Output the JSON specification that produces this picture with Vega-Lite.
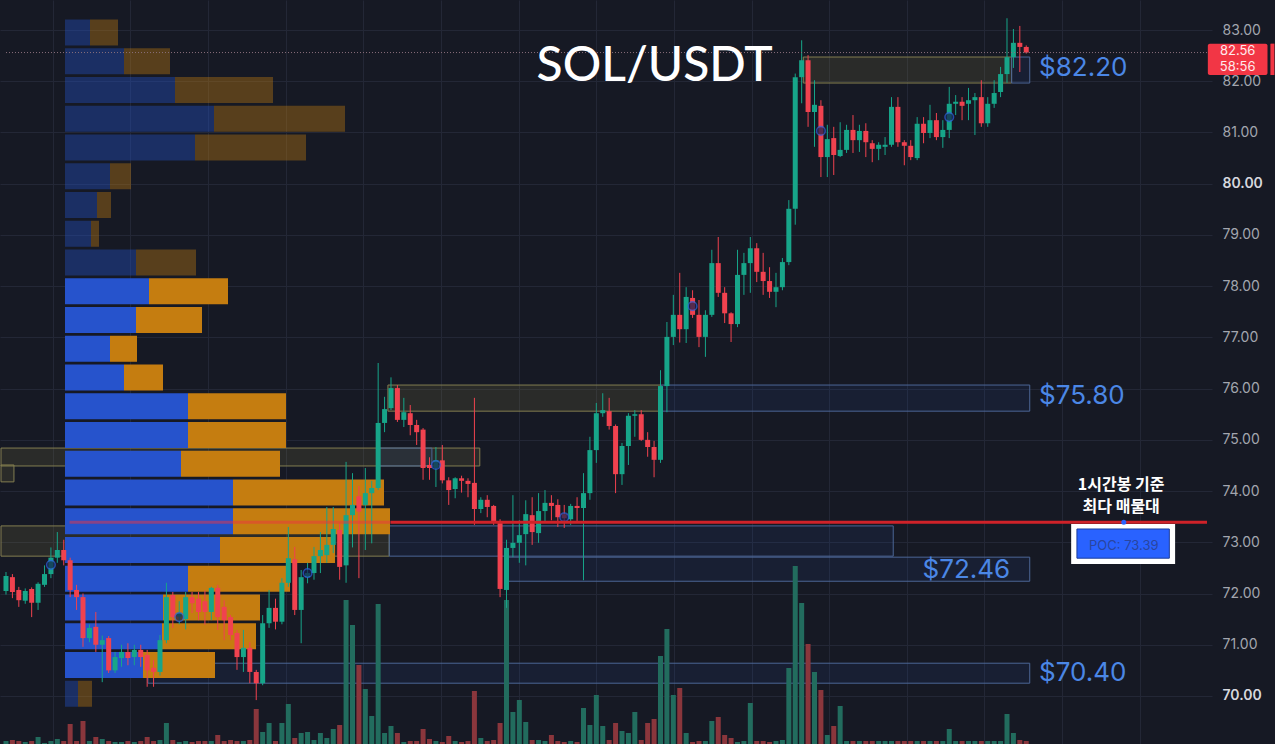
{
  "$schema": "https://vega.github.io/schema/vega-lite/v6.json",
  "width": 1212,
  "height": 744,
  "autosize": {"type": "pad"},
  "padding": 0,
  "background": "#161924",
  "config": {"view": {"stroke": null}, "font": "Inter"},
  "datasets": {
    "candles": [
      {"i":0,"o":72.05,"h":72.42,"l":71.98,"c":72.34,"v":3},
      {"i":1,"o":72.32,"h":72.38,"l":71.91,"c":72.03,"v":4},
      {"i":2,"o":72.07,"h":72.13,"l":71.74,"c":71.87,"v":3},
      {"i":3,"o":71.86,"h":72.10,"l":71.80,"c":72.05,"v":2},
      {"i":4,"o":72.09,"h":72.12,"l":71.54,"c":71.82,"v":3},
      {"i":5,"o":71.82,"h":72.22,"l":71.68,"c":72.19,"v":7},
      {"i":6,"o":72.17,"h":72.55,"l":72.13,"c":72.38,"v":1},
      {"i":7,"o":72.38,"h":72.90,"l":72.30,"c":72.70,"v":3},
      {"i":8,"o":72.70,"h":73.20,"l":72.60,"c":72.85,"v":5},
      {"i":9,"o":72.85,"h":73.05,"l":72.55,"c":72.65,"v":3},
      {"i":10,"o":72.65,"h":72.70,"l":71.93,"c":72.07,"v":20},
      {"i":11,"o":72.07,"h":72.17,"l":71.68,"c":71.93,"v":3},
      {"i":12,"o":71.93,"h":72.00,"l":70.96,"c":71.13,"v":23},
      {"i":13,"o":71.13,"h":71.40,"l":71.05,"c":71.33,"v":3},
      {"i":14,"o":71.35,"h":71.64,"l":70.86,"c":71.00,"v":7},
      {"i":15,"o":71.00,"h":71.18,"l":70.27,"c":71.09,"v":5},
      {"i":16,"o":71.13,"h":71.17,"l":70.45,"c":70.50,"v":3},
      {"i":17,"o":70.50,"h":70.86,"l":70.45,"c":70.76,"v":2},
      {"i":18,"o":70.74,"h":71.00,"l":70.57,"c":70.86,"v":2},
      {"i":19,"o":70.86,"h":71.03,"l":70.60,"c":70.74,"v":3},
      {"i":20,"o":70.76,"h":71.00,"l":70.60,"c":70.90,"v":2},
      {"i":21,"o":70.90,"h":71.00,"l":70.57,"c":70.76,"v":3},
      {"i":22,"o":70.80,"h":70.90,"l":70.18,"c":70.50,"v":7},
      {"i":23,"o":70.55,"h":70.70,"l":70.18,"c":70.47,"v":3},
      {"i":24,"o":70.47,"h":71.19,"l":70.40,"c":71.09,"v":4},
      {"i":25,"o":71.09,"h":72.21,"l":71.03,"c":71.93,"v":21},
      {"i":26,"o":71.97,"h":72.03,"l":71.33,"c":71.54,"v":4},
      {"i":27,"o":71.55,"h":71.85,"l":71.40,"c":71.62,"v":2},
      {"i":28,"o":71.50,"h":72.03,"l":71.30,"c":71.93,"v":3},
      {"i":29,"o":71.93,"h":72.03,"l":71.62,"c":71.81,"v":2},
      {"i":30,"o":71.90,"h":72.03,"l":71.48,"c":71.64,"v":3},
      {"i":31,"o":71.85,"h":72.06,"l":71.39,"c":71.64,"v":3},
      {"i":32,"o":71.64,"h":72.13,"l":71.48,"c":72.11,"v":3},
      {"i":33,"o":72.11,"h":72.17,"l":71.29,"c":71.54,"v":9},
      {"i":34,"o":71.74,"h":71.87,"l":71.09,"c":71.48,"v":3},
      {"i":35,"o":71.54,"h":71.58,"l":71.09,"c":71.19,"v":4},
      {"i":36,"o":71.23,"h":71.29,"l":70.51,"c":70.76,"v":3},
      {"i":37,"o":70.76,"h":71.29,"l":70.47,"c":70.94,"v":3},
      {"i":38,"o":70.94,"h":71.05,"l":70.25,"c":70.47,"v":4},
      {"i":39,"o":70.47,"h":70.51,"l":69.92,"c":70.25,"v":35},
      {"i":40,"o":70.25,"h":71.58,"l":70.21,"c":71.42,"v":12},
      {"i":41,"o":71.42,"h":72.07,"l":71.33,"c":71.72,"v":21},
      {"i":42,"o":71.72,"h":71.90,"l":71.30,"c":71.45,"v":3},
      {"i":43,"o":71.45,"h":72.30,"l":71.40,"c":72.21,"v":21},
      {"i":44,"o":72.21,"h":73.30,"l":72.13,"c":72.69,"v":40},
      {"i":45,"o":72.67,"h":72.91,"l":71.58,"c":71.68,"v":6},
      {"i":46,"o":71.68,"h":72.46,"l":71.03,"c":72.32,"v":11},
      {"i":47,"o":72.32,"h":72.60,"l":72.20,"c":72.40,"v":12},
      {"i":48,"o":72.40,"h":72.91,"l":72.27,"c":72.73,"v":4},
      {"i":49,"o":72.73,"h":73.20,"l":72.40,"c":72.85,"v":11},
      {"i":50,"o":72.75,"h":73.69,"l":72.60,"c":72.95,"v":6},
      {"i":51,"o":72.95,"h":73.69,"l":72.79,"c":73.26,"v":15},
      {"i":52,"o":73.24,"h":73.38,"l":72.27,"c":72.52,"v":19},
      {"i":53,"o":72.55,"h":74.57,"l":72.21,"c":73.53,"v":144},
      {"i":54,"o":73.53,"h":74.35,"l":72.90,"c":73.73,"v":119},
      {"i":55,"o":73.90,"h":74.10,"l":72.30,"c":73.60,"v":79},
      {"i":56,"o":73.73,"h":74.45,"l":72.85,"c":73.96,"v":55},
      {"i":57,"o":73.96,"h":74.20,"l":72.98,"c":74.06,"v":28},
      {"i":58,"o":74.06,"h":76.50,"l":74.02,"c":75.33,"v":140},
      {"i":59,"o":75.33,"h":75.84,"l":75.15,"c":75.60,"v":11},
      {"i":60,"o":75.62,"h":76.22,"l":75.58,"c":76.01,"v":18},
      {"i":61,"o":76.01,"h":76.07,"l":75.35,"c":75.39,"v":11},
      {"i":62,"o":75.39,"h":75.82,"l":75.25,"c":75.54,"v":2},
      {"i":63,"o":75.52,"h":75.68,"l":75.09,"c":75.29,"v":3},
      {"i":64,"o":75.29,"h":75.39,"l":74.90,"c":75.15,"v":3},
      {"i":65,"o":75.20,"h":75.23,"l":74.22,"c":74.45,"v":15},
      {"i":66,"o":74.51,"h":74.66,"l":74.22,"c":74.45,"v":5},
      {"i":67,"o":74.45,"h":74.86,"l":74.08,"c":74.60,"v":3},
      {"i":68,"o":74.60,"h":74.90,"l":74.15,"c":74.21,"v":2},
      {"i":69,"o":74.21,"h":74.27,"l":73.73,"c":74.02,"v":8},
      {"i":70,"o":74.04,"h":74.27,"l":73.86,"c":74.25,"v":3},
      {"i":71,"o":74.25,"h":74.30,"l":73.97,"c":74.20,"v":2},
      {"i":72,"o":74.20,"h":74.25,"l":73.88,"c":74.14,"v":3},
      {"i":73,"o":74.16,"h":75.82,"l":73.34,"c":73.65,"v":53},
      {"i":74,"o":73.65,"h":73.88,"l":73.57,"c":73.83,"v":6},
      {"i":75,"o":73.83,"h":73.92,"l":73.49,"c":73.69,"v":3},
      {"i":76,"o":73.71,"h":73.73,"l":73.34,"c":73.40,"v":4},
      {"i":77,"o":73.40,"h":73.45,"l":71.93,"c":72.09,"v":21},
      {"i":78,"o":72.07,"h":73.05,"l":71.72,"c":72.89,"v":144},
      {"i":79,"o":72.89,"h":73.92,"l":72.71,"c":72.99,"v":32},
      {"i":80,"o":72.99,"h":73.43,"l":72.60,"c":73.14,"v":44},
      {"i":81,"o":73.16,"h":73.82,"l":72.55,"c":73.55,"v":22},
      {"i":82,"o":73.53,"h":73.88,"l":72.95,"c":73.20,"v":4},
      {"i":83,"o":73.18,"h":73.96,"l":72.99,"c":73.61,"v":4},
      {"i":84,"o":73.61,"h":74.02,"l":73.38,"c":73.77,"v":3},
      {"i":85,"o":73.77,"h":73.92,"l":73.43,"c":73.71,"v":9},
      {"i":86,"o":73.73,"h":73.84,"l":73.30,"c":73.49,"v":3},
      {"i":87,"o":73.55,"h":73.73,"l":73.28,"c":73.47,"v":2},
      {"i":88,"o":73.45,"h":73.75,"l":73.34,"c":73.71,"v":3},
      {"i":89,"o":73.71,"h":73.88,"l":73.38,"c":73.67,"v":2},
      {"i":90,"o":73.67,"h":74.35,"l":72.26,"c":73.96,"v":36},
      {"i":91,"o":73.96,"h":75.06,"l":73.83,"c":74.80,"v":19},
      {"i":92,"o":74.80,"h":75.72,"l":74.55,"c":75.52,"v":49},
      {"i":93,"o":75.52,"h":75.91,"l":75.45,"c":75.58,"v":18},
      {"i":94,"o":75.56,"h":75.82,"l":75.20,"c":75.27,"v":4},
      {"i":95,"o":75.27,"h":75.30,"l":73.96,"c":74.33,"v":21},
      {"i":96,"o":74.33,"h":74.94,"l":74.12,"c":74.88,"v":13},
      {"i":97,"o":74.88,"h":75.52,"l":74.51,"c":75.47,"v":11},
      {"i":98,"o":75.47,"h":75.58,"l":75.06,"c":75.50,"v":32},
      {"i":99,"o":75.50,"h":75.58,"l":74.98,"c":75.00,"v":4},
      {"i":100,"o":75.00,"h":75.15,"l":74.67,"c":74.86,"v":21},
      {"i":101,"o":74.86,"h":74.98,"l":74.27,"c":74.61,"v":25},
      {"i":102,"o":74.61,"h":76.36,"l":74.55,"c":76.05,"v":88},
      {"i":103,"o":76.05,"h":77.30,"l":75.54,"c":77.01,"v":115},
      {"i":104,"o":77.01,"h":77.83,"l":76.85,"c":77.44,"v":49},
      {"i":105,"o":77.44,"h":78.26,"l":76.90,"c":77.16,"v":56},
      {"i":106,"o":77.16,"h":77.98,"l":76.89,"c":77.79,"v":11},
      {"i":107,"o":77.77,"h":77.92,"l":77.38,"c":77.44,"v":2},
      {"i":108,"o":77.44,"h":77.73,"l":76.81,"c":77.01,"v":3},
      {"i":109,"o":77.01,"h":77.53,"l":76.62,"c":77.44,"v":3},
      {"i":110,"o":77.44,"h":78.71,"l":77.40,"c":78.45,"v":23},
      {"i":111,"o":78.45,"h":78.96,"l":77.79,"c":77.87,"v":27},
      {"i":112,"o":77.87,"h":77.98,"l":77.28,"c":77.47,"v":9},
      {"i":113,"o":77.47,"h":77.49,"l":76.91,"c":77.26,"v":6},
      {"i":114,"o":77.26,"h":78.71,"l":77.20,"c":78.22,"v":2},
      {"i":115,"o":78.22,"h":78.65,"l":77.83,"c":78.45,"v":3},
      {"i":116,"o":78.45,"h":78.96,"l":77.87,"c":78.74,"v":41},
      {"i":117,"o":78.74,"h":78.84,"l":78.08,"c":78.28,"v":3},
      {"i":118,"o":78.28,"h":78.65,"l":77.83,"c":78.10,"v":3},
      {"i":119,"o":78.10,"h":78.37,"l":77.77,"c":77.89,"v":2},
      {"i":120,"o":77.89,"h":78.26,"l":77.59,"c":77.98,"v":3},
      {"i":121,"o":77.98,"h":78.55,"l":77.92,"c":78.47,"v":4},
      {"i":122,"o":78.47,"h":79.68,"l":78.41,"c":79.51,"v":76},
      {"i":123,"o":79.51,"h":82.15,"l":79.20,"c":82.08,"v":178},
      {"i":124,"o":82.08,"h":82.80,"l":81.57,"c":82.41,"v":141},
      {"i":125,"o":82.41,"h":82.51,"l":81.11,"c":81.40,"v":100},
      {"i":126,"o":81.40,"h":82.02,"l":80.72,"c":81.54,"v":72},
      {"i":127,"o":81.52,"h":81.63,"l":80.13,"c":80.52,"v":54},
      {"i":128,"o":80.52,"h":81.15,"l":80.13,"c":80.87,"v":9},
      {"i":129,"o":80.89,"h":81.11,"l":80.17,"c":80.56,"v":18},
      {"i":130,"o":80.54,"h":81.20,"l":80.52,"c":80.66,"v":38},
      {"i":131,"o":80.66,"h":81.15,"l":80.60,"c":81.05,"v":3},
      {"i":132,"o":81.05,"h":81.34,"l":80.60,"c":80.85,"v":3},
      {"i":133,"o":80.85,"h":81.15,"l":80.62,"c":81.03,"v":3},
      {"i":134,"o":81.03,"h":81.18,"l":80.52,"c":80.81,"v":3},
      {"i":135,"o":80.79,"h":80.85,"l":80.42,"c":80.68,"v":3},
      {"i":136,"o":80.68,"h":80.81,"l":80.46,"c":80.76,"v":3},
      {"i":137,"o":80.72,"h":80.91,"l":80.56,"c":80.76,"v":3},
      {"i":138,"o":80.76,"h":81.69,"l":80.72,"c":81.50,"v":3},
      {"i":139,"o":81.50,"h":81.69,"l":80.72,"c":80.81,"v":3},
      {"i":140,"o":80.81,"h":80.85,"l":80.36,"c":80.74,"v":3},
      {"i":141,"o":80.74,"h":80.85,"l":80.46,"c":80.52,"v":3},
      {"i":142,"o":80.50,"h":81.30,"l":80.46,"c":81.17,"v":3},
      {"i":143,"o":81.17,"h":81.30,"l":80.79,"c":80.99,"v":3},
      {"i":144,"o":80.99,"h":81.54,"l":80.89,"c":81.24,"v":3},
      {"i":145,"o":81.24,"h":81.38,"l":80.85,"c":80.91,"v":3},
      {"i":146,"o":80.91,"h":81.24,"l":80.70,"c":81.05,"v":3},
      {"i":147,"o":81.05,"h":81.89,"l":80.89,"c":81.56,"v":15},
      {"i":148,"o":81.56,"h":81.73,"l":81.34,"c":81.60,"v":3},
      {"i":149,"o":81.60,"h":81.69,"l":81.24,"c":81.52,"v":3},
      {"i":150,"o":81.56,"h":81.87,"l":81.24,"c":81.63,"v":3},
      {"i":151,"o":81.63,"h":81.77,"l":80.95,"c":81.69,"v":3},
      {"i":152,"o":81.69,"h":82.02,"l":81.11,"c":81.18,"v":3},
      {"i":153,"o":81.18,"h":81.69,"l":81.11,"c":81.56,"v":3},
      {"i":154,"o":81.56,"h":82.02,"l":81.48,"c":81.77,"v":3},
      {"i":155,"o":81.79,"h":82.28,"l":81.69,"c":82.14,"v":3},
      {"i":156,"o":82.14,"h":83.23,"l":81.97,"c":82.47,"v":30},
      {"i":157,"o":82.47,"h":83.02,"l":82.26,"c":82.75,"v":11},
      {"i":158,"o":82.75,"h":83.08,"l":82.18,"c":82.67,"v":4},
      {"i":159,"o":82.67,"h":82.70,"l":82.54,"c":82.56,"v":3}
    ],
    "profile": [
      {"hi":83.205,"lo":82.698,"buy":25,"sell":28,"va":false},
      {"hi":82.644,"lo":82.136,"buy":59,"sell":46,"va":false},
      {"hi":82.083,"lo":81.575,"buy":110,"sell":98,"va":false},
      {"hi":81.521,"lo":81.014,"buy":149,"sell":131,"va":false},
      {"hi":80.960,"lo":80.453,"buy":130,"sell":111,"va":false},
      {"hi":80.399,"lo":79.892,"buy":45,"sell":21,"va":false},
      {"hi":79.838,"lo":79.330,"buy":32,"sell":14,"va":false},
      {"hi":79.277,"lo":78.769,"buy":26,"sell":8,"va":false},
      {"hi":78.715,"lo":78.208,"buy":71,"sell":60,"va":false},
      {"hi":78.154,"lo":77.647,"buy":84,"sell":79,"va":true},
      {"hi":77.593,"lo":77.086,"buy":71,"sell":66,"va":true},
      {"hi":77.032,"lo":76.524,"buy":45,"sell":27,"va":true},
      {"hi":76.471,"lo":75.963,"buy":59,"sell":39,"va":true},
      {"hi":75.909,"lo":75.402,"buy":123,"sell":98,"va":true},
      {"hi":75.348,"lo":74.841,"buy":123,"sell":98,"va":true},
      {"hi":74.787,"lo":74.280,"buy":116,"sell":99,"va":true},
      {"hi":74.226,"lo":73.718,"buy":168,"sell":151,"va":true},
      {"hi":73.665,"lo":73.157,"buy":168,"sell":157,"va":true},
      {"hi":73.103,"lo":72.596,"buy":155,"sell":115,"va":true},
      {"hi":72.542,"lo":72.035,"buy":123,"sell":102,"va":true},
      {"hi":71.981,"lo":71.474,"buy":98,"sell":97,"va":true},
      {"hi":71.420,"lo":70.912,"buy":97,"sell":94,"va":true},
      {"hi":70.859,"lo":70.351,"buy":78,"sell":72,"va":true},
      {"hi":70.297,"lo":69.790,"buy":13,"sell":14,"va":false}
    ],
    "zones": [
      {"x0":124.0,"x1":156.2,"lo":81.965,"hi":82.473,"kind":"supply"},
      {"x0":156.2,"x1":159.0,"lo":81.965,"hi":82.473,"kind":"demand"},
      {"x0":59.8,"x1":102.0,"lo":75.56,"hi":76.07,"kind":"supply"},
      {"x0":102.0,"x1":159.0,"lo":75.56,"hi":76.07,"kind":"demand"},
      {"x0":0,"x1":74.0,"lo":74.49,"hi":74.84,"kind":"supply"},
      {"x0":58.1,"x1":66.6,"lo":74.49,"hi":74.84,"kind":"demand"},
      {"x0":0,"x1":2.0,"lo":74.18,"hi":74.51,"kind":"supply"},
      {"x0":0,"x1":60.0,"lo":72.73,"hi":73.32,"kind":"supply"},
      {"x0":60.0,"x1":137.9,"lo":72.73,"hi":73.32,"kind":"demand"},
      {"x0":77.9,"x1":159.0,"lo":72.24,"hi":72.71,"kind":"demand"},
      {"x0":22.7,"x1":159.0,"lo":70.25,"hi":70.64,"kind":"demand"}
    ],
    "markers": [
      {"i":7,"p":72.56},{"i":27,"p":71.54},{"i":47,"p":72.40},{"i":67,"p":74.51},
      {"i":87,"p":73.49},{"i":107,"p":77.61},{"i":127,"p":81.03},{"i":147,"p":81.30}
    ],
    "levels": [
      {"p":82.20,"t":"$82.20"},{"p":75.80,"t":"$75.80"},{"p":72.46,"t":"$72.46"},{"p":70.40,"t":"$70.40"}
    ]
  },
  "layer": [
    {
      "data": {"name": "zones"},
      "mark": {"type": "rect", "strokeWidth": 1},
      "encoding": {
        "x": {"field": "x0", "type": "quantitative",
              "scale": {"domain": [-0.1546, 187.17], "nice": false, "zero": false},
              "axis": {"values": [8,20,32,44,56,68,80,92,104,116,128,140,152,164,176], "grid": true, "gridColor": "#232736", "labels": false, "ticks": false, "domain": false, "title": null}},
        "x2": {"field": "x1"},
        "y": {"field": "lo", "type": "quantitative",
              "scale": {"domain": [69.063, 83.586], "nice": false, "zero": false},
              "axis": {"orient": "right", "values": [70,71,72,73,74,75,76,77,78,79,80,81,82,83], "format": ".2f", "grid": true, "gridColor": "#232736", "domain": false, "ticks": false, "tickSize": 0, "labelPadding": 10, "labelAlign": "left", "labelFont": "Inter", "labelFontSize": 14, "title": null,
                       "labelColor": {"condition": {"test": "datum.value % 10 === 0", "value": "#d6d8de"}, "value": "#a3a6af"},
                       "labelFontWeight": {"condition": {"test": "datum.value % 10 === 0", "value": 600}, "value": 400}}},
        "y2": {"field": "hi"},
        "fill": {"field": "kind", "type": "nominal", "scale": {"domain": ["supply","demand"], "range": ["#8f8a4a","#2d5fd0"]}, "legend": null},
        "fillOpacity": {"field": "kind", "type": "nominal", "scale": {"domain": ["supply","demand"], "range": [0.17,0.09]}, "legend": null},
        "stroke": {"field": "kind", "type": "nominal", "scale": {"domain": ["supply","demand"], "range": ["#827d50","#4c6696"]}, "legend": null}
      }
    },
    {
      "data": {"name": "profile"},
      "transform": [
        {"fold": ["buy","sell"], "as": ["side","vol"]},
        {"stack": "vol", "groupby": ["hi"], "sort": [{"field": "side", "order": "ascending"}], "as": ["v0","v1"]}
      ],
      "mark": {"type": "rect"},
      "encoding": {
        "x": {"field": "v0", "type": "quantitative", "scale": {"domain": [-65, 1147], "nice": false, "zero": false}, "axis": null},
        "x2": {"field": "v1"},
        "y": {"field": "lo", "type": "quantitative", "scale": {"domain": [69.063, 83.586], "nice": false, "zero": false}, "axis": null},
        "y2": {"field": "hi"},
        "color": {"field": "side", "type": "nominal", "scale": {"domain": ["buy","sell"], "range": ["#2653cc","#c57d10"]}, "legend": null},
        "opacity": {"condition": {"test": "datum.va", "value": 1}, "value": 0.38}
      }
    },
    {
      "data": {"name": "candles"},
      "mark": {"type": "bar", "orient": "vertical", "size": 5},
      "encoding": {
        "x": {"field": "i", "type": "quantitative", "scale": {"domain": [-0.1546, 187.17], "nice": false, "zero": false}, "axis": null},
        "y": {"field": "v", "type": "quantitative", "scale": {"domain": [0, 744], "nice": false}, "axis": null},
        "color": {"condition": {"test": "datum.c >= datum.o", "value": "#226c5e"}, "value": "#8a363c"}
      }
    },
    {
      "layer": [
        {
          "data": {"name": "candles"},
          "mark": {"type": "rule", "strokeWidth": 1},
          "encoding": {
            "x": {"field": "i", "type": "quantitative", "scale": {"domain": [-0.1546, 187.17], "nice": false, "zero": false}, "axis": null},
            "y": {"field": "l", "type": "quantitative", "scale": {"domain": [69.063, 83.586], "nice": false, "zero": false}, "axis": null},
            "y2": {"field": "h"},
            "color": {"condition": {"test": "datum.c >= datum.o", "value": "#17a589"}, "value": "#f0424f"}
          }
        },
        {
          "data": {"name": "candles"},
          "mark": {"type": "bar", "orient": "vertical", "size": 5},
          "encoding": {
            "x": {"field": "i", "type": "quantitative"},
            "y": {"field": "o", "type": "quantitative"},
            "y2": {"field": "c"},
            "color": {"condition": {"test": "datum.c >= datum.o", "value": "#17a589"}, "value": "#f0424f"}
          }
        },
        {
          "data": {"name": "markers"},
          "mark": {"type": "point", "filled": true, "size": 75, "fill": "#15214d", "stroke": "#2d5fe0", "strokeWidth": 1.5},
          "encoding": {
            "x": {"field": "i", "type": "quantitative"},
            "y": {"field": "p", "type": "quantitative"}
          }
        },
        {
          "data": {"values": [{"p": 82.56}]},
          "mark": {"type": "rule", "color": "#8a6f7c", "strokeWidth": 1, "strokeDash": [1, 2]},
          "encoding": {
            "x": {"datum": 0, "type": "quantitative"},
            "x2": {"datum": 187.17},
            "y": {"field": "p", "type": "quantitative"}
          }
        },
        {
          "data": {"values": [{"p": 73.39}]},
          "mark": {"type": "rule", "color": "#ec3340", "strokeWidth": 3, "opacity": 0.5},
          "encoding": {
            "x": {"datum": 9.9, "type": "quantitative"},
            "x2": {"datum": 60.0},
            "y": {"field": "p", "type": "quantitative"}
          }
        },
        {
          "data": {"values": [{"p": 73.39}]},
          "mark": {"type": "rule", "color": "#cf2229", "strokeWidth": 3},
          "encoding": {
            "x": {"datum": 60.0, "type": "quantitative"},
            "x2": {"datum": 187.17},
            "y": {"field": "p", "type": "quantitative"}
          }
        },
        {
          "data": {"name": "levels"},
          "transform": [{"filter": "datum.p != 72.46"}],
          "mark": {"type": "text", "align": "left", "baseline": "middle", "dy": -3, "fontSize": 26, "font": "Inter", "color": "#4b87e6"},
          "encoding": {
            "x": {"datum": 161.0, "type": "quantitative"},
            "y": {"field": "p", "type": "quantitative"},
            "text": {"field": "t"}
          }
        },
        {
          "data": {"name": "levels"},
          "transform": [{"filter": "datum.p == 72.46"}],
          "mark": {"type": "text", "align": "right", "baseline": "middle", "dy": 0, "fontSize": 26, "font": "Inter", "color": "#4b87e6"},
          "encoding": {
            "x": {"datum": 156.5, "type": "quantitative"},
            "y": {"field": "p", "type": "quantitative"},
            "text": {"field": "t"}
          }
        },
        {
          "data": {"values": [{"t": "SOL/USDT"}]},
          "mark": {"type": "text", "align": "center", "baseline": "middle", "fontSize": 48, "font": "Lato", "fontWeight": 500, "color": "#ffffff"},
          "encoding": {
            "x": {"datum": 101.1, "type": "quantitative"},
            "y": {"datum": 82.28, "type": "quantitative"},
            "text": {"field": "t"}
          }
        },
        {
          "data": {"values": [{"t": "1시간봉 기준", "p": 74.12}, {"t": "최다 매물대", "p": 73.68}]},
          "mark": {"type": "text", "align": "center", "baseline": "middle", "fontSize": 16, "font": "Noto Sans CJK KR", "fontWeight": "bold", "color": "#ffffff"},
          "encoding": {
            "x": {"datum": 173.8, "type": "quantitative"},
            "y": {"field": "p", "type": "quantitative"},
            "text": {"field": "t"}
          }
        },
        {
          "data": {"values": [{}]},
          "mark": {"type": "rect", "color": "#ffffff"},
          "encoding": {
            "x": {"datum": 166.0, "type": "quantitative"},
            "x2": {"datum": 182.2},
            "y": {"datum": 72.576, "type": "quantitative"},
            "y2": {"datum": 73.357}
          }
        },
        {
          "data": {"values": [{}]},
          "mark": {"type": "rect", "color": "#2962ff", "stroke": "#1c3d9c", "strokeWidth": 1},
          "encoding": {
            "x": {"datum": 166.9, "type": "quantitative"},
            "x2": {"datum": 181.3},
            "y": {"datum": 72.69, "type": "quantitative"},
            "y2": {"datum": 73.26}
          }
        },
        {
          "data": {"values": [{"t": "POC: 73.39"}]},
          "mark": {"type": "text", "align": "center", "baseline": "middle", "fontSize": 13, "font": "Inter", "color": "#2a45a0"},
          "encoding": {
            "x": {"datum": 174.2, "type": "quantitative"},
            "y": {"datum": 72.93, "type": "quantitative"},
            "text": {"field": "t"}
          }
        },
        {
          "data": {"values": [{"p": 73.39}]},
          "mark": {"type": "point", "filled": true, "size": 25, "color": "#2962ff", "opacity": 1},
          "encoding": {
            "x": {"datum": 174.2, "type": "quantitative"},
            "y": {"field": "p", "type": "quantitative"}
          }
        },
        {
          "data": {"values": [{}]},
          "mark": {"type": "rect", "color": "#f23645", "cornerRadius": 2},
          "encoding": {
            "x": {"datum": 187.3, "type": "quantitative"},
            "x2": {"datum": 196.6},
            "y": {"datum": 82.122, "type": "quantitative"},
            "y2": {"datum": 82.734}
          }
        },
        {
          "data": {"values": [{}]},
          "mark": {"type": "rect", "color": "#f23645"},
          "encoding": {
            "x": {"datum": 197.05, "type": "quantitative"},
            "x2": {"datum": 197.68},
            "y": {"datum": 82.122, "type": "quantitative"},
            "y2": {"datum": 82.734}
          }
        },
        {
          "data": {"values": [{"t": "82.56", "p": 82.585}, {"t": "58:56", "p": 82.275}]},
          "mark": {"type": "text", "align": "center", "baseline": "middle", "fontSize": 13, "font": "Inter", "color": "#ffe9ec"},
          "encoding": {
            "x": {"datum": 191.95, "type": "quantitative"},
            "y": {"field": "p", "type": "quantitative"},
            "text": {"field": "t"}
          }
        }
      ]
    }
  ],
  "resolve": {"scale": {"x": "independent", "y": "independent"}}
}
